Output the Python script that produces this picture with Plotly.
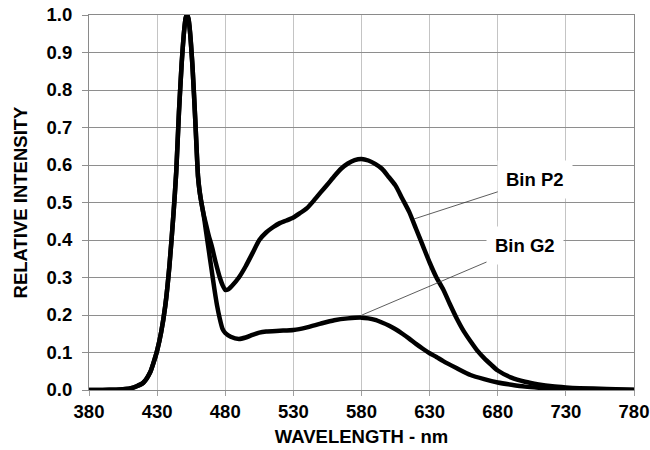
import plotly.graph_objects as go

# ---- data ----
wl_p2 = [380, 390, 400, 405, 410, 415, 420, 425, 428, 430, 433, 436, 439, 442, 444, 446, 448, 450, 451, 452,
         453, 454, 456, 458, 460, 461, 462, 464, 466, 468, 470, 473, 476, 478, 480, 482, 485, 490, 495, 500,
         505, 510, 515, 520, 525, 530, 535, 540, 545, 550, 555, 560, 565, 570, 575, 580, 585, 590, 595, 600,
         605, 610, 615, 620, 625, 630, 635, 640, 645, 650, 655, 660, 665, 670, 675, 680, 690, 700, 710, 720,
         730, 740, 760, 780]
ri_p2 = [0.0, 0.0, 0.001, 0.002, 0.004, 0.01, 0.02, 0.048, 0.08, 0.105, 0.155, 0.225, 0.33, 0.47, 0.58, 0.74, 0.87, 0.965, 0.993, 1.0,
         0.99, 0.96, 0.86, 0.72, 0.57, 0.535, 0.51, 0.47, 0.44, 0.41, 0.385, 0.34, 0.30, 0.28, 0.267, 0.268, 0.278, 0.30, 0.33, 0.365,
         0.40, 0.42, 0.434, 0.445, 0.452, 0.46, 0.472, 0.485, 0.505, 0.527, 0.548, 0.57, 0.59, 0.604, 0.613, 0.616, 0.612, 0.603, 0.59, 0.568,
         0.545, 0.51, 0.475, 0.43, 0.385, 0.34, 0.30, 0.268, 0.228, 0.19, 0.157, 0.13, 0.105, 0.085, 0.068, 0.052, 0.033, 0.022, 0.015, 0.010,
         0.007, 0.005, 0.003, 0.001]

wl_g2 = [380, 390, 400, 405, 410, 415, 420, 425, 428, 430, 433, 436, 439, 442, 444, 446, 448, 450, 451, 452,
         453, 454, 456, 458, 460, 461, 462, 464, 466, 468, 470, 472, 474, 476, 478, 480, 484, 490, 495, 500,
         505, 510, 520, 530, 540, 550, 560, 570, 580, 585, 590, 595, 600, 605, 610, 615, 620, 625, 630, 635,
         640, 650, 660, 670, 680, 690, 700, 710, 720, 740, 760, 780]
ri_g2 = [0.0, 0.0, 0.001, 0.002, 0.004, 0.01, 0.02, 0.048, 0.08, 0.105, 0.155, 0.225, 0.33, 0.47, 0.58, 0.74, 0.87, 0.965, 0.993, 1.0,
         0.99, 0.96, 0.86, 0.72, 0.57, 0.535, 0.51, 0.47, 0.42, 0.37, 0.32, 0.27, 0.225, 0.19, 0.163, 0.152, 0.142, 0.136, 0.14, 0.147,
         0.153, 0.156, 0.158, 0.16, 0.167, 0.177, 0.186, 0.191, 0.193, 0.191, 0.187, 0.18, 0.172, 0.162, 0.15, 0.137, 0.123, 0.11, 0.098, 0.088,
         0.077, 0.058, 0.04, 0.029, 0.02, 0.014, 0.009, 0.006, 0.004, 0.002, 0.001, 0.0]

x_ticks = [380, 430, 480, 530, 580, 630, 680, 730, 780]
y_ticks = [0.0, 0.1, 0.2, 0.3, 0.4, 0.5, 0.6, 0.7, 0.8, 0.9, 1.0]

labels = ["Bin P2", "Bin G2"]
label_pos = [(707.5, 0.561), (700.0, 0.385)]
label_target = [(618.5, 0.456), (580.4, 0.2)]

FONT = "Liberation Sans, Arial, sans-serif"
FS = 18.5

fig = go.Figure()
for wl, ri, name in [(wl_p2, ri_p2, labels[0]), (wl_g2, ri_g2, labels[1])]:
    fig.add_trace(go.Scatter(x=wl, y=ri, mode="lines", name=name,
                             line=dict(color="black", width=4.5, shape="spline", smoothing=0.6),
                             showlegend=False))

for txt, (tx, ty), (hx, hy) in zip(labels, label_pos, label_target):
    fig.add_annotation(x=hx, y=hy, ax=tx, ay=ty, axref="x", ayref="y", xref="x", yref="y",
                       text="<b>%s</b>" % txt, showarrow=True, arrowhead=0, arrowwidth=0.8,
                       arrowcolor="#333333", bgcolor="white", borderpad=8,
                       font=dict(family=FONT, size=FS, color="black"))

fig.update_layout(
    width=650, height=450,
    margin=dict(l=89, r=16, t=15, b=60),
    paper_bgcolor="white", plot_bgcolor="white",
    font=dict(family=FONT, size=FS, color="black"),
)
fig.update_xaxes(range=[380, 780], tickvals=x_ticks, ticktext=["<b>%d</b>" % v for v in x_ticks],
                 showgrid=True, gridcolor="#c4c4c4", gridwidth=1,
                 showline=True, linecolor="#8a8a8a", linewidth=1, mirror=True,
                 ticks="outside", ticklen=5, tickcolor="#a0a0a0",
                 zeroline=False, automargin=False,
                 title=dict(text="<b>WAVELENGTH - nm</b>", standoff=8,
                            font=dict(family=FONT, size=FS)))
fig.update_yaxes(range=[0, 1.0], tickvals=y_ticks, ticktext=["<b>%.1f</b>" % v for v in y_ticks],
                 showgrid=True, gridcolor="#8e8e8e", gridwidth=1,
                 showline=True, linecolor="#8a8a8a", linewidth=1, mirror=True,
                 ticks="outside", ticklen=6, tickcolor="#8e8e8e", ticklabelstandoff=6,
                 zeroline=False, automargin=False,
                 title=dict(text="<b>RELATIVE INTENSITY</b>", standoff=14,
                            font=dict(family=FONT, size=FS)))

fig.write_html("out.html")
